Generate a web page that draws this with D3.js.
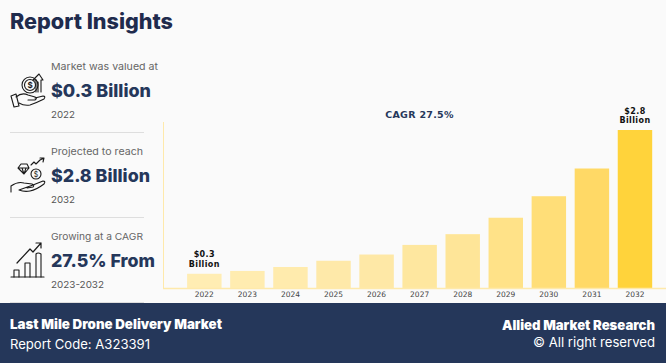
<!DOCTYPE html>
<html>
<head>
<meta charset="utf-8">
<script src="https://cdn.jsdelivr.net/npm/d3@7"></script>
<style>
html, body { margin: 0; padding: 0; background: #fafafa; }
svg { display: block; }
text { font-family: Inter, "Open Sans", sans-serif; }
.chart-text { font-family: "DejaVu Sans", sans-serif; }
.icon { fill: none; stroke: #1a1a1a; stroke-width: 1.1; stroke-linejoin: round; stroke-linecap: round; }
</style>
</head>
<body>
<div class="chart-container"></div>
<script>
const years = ['2022', '2023', '2024', '2025', '2026', '2027', '2028', '2029', '2030', '2031', '2032']
const marketValues = [0.26, 0.31, 0.38, 0.49, 0.60, 0.77, 0.96, 1.25, 1.63, 2.12, 2.8]
const valueLabels = { '2022': ['$0.3', 'Billion'], '2032': ['$2.8', 'Billion'] }
const cagrLabel = 'CAGR 27.5%'

const insightLabels = ['Market was valued at', 'Projected to reach', 'Growing at a CAGR']
const insightValues = ['$0.3 Billion', '$2.8 Billion', '27.5% From']
const insightYears = ['2022', '2032', '2023-2032']

const width = 666, height = 363
const navy = '#25375a', axisColor = '#fee9ab'

const svg = d3.select('.chart-container').append('svg')
    .attr('width', width)
    .attr('height', height)

svg.append('rect').attr('width', width).attr('height', height).attr('fill', '#fafafa')

// squeeze a text to the width it has in the reference, the Poppins of the original is not installed
const fit = (sel, w) => sel.attr('textLength', w).attr('lengthAdjust', 'spacingAndGlyphs')

fit(svg.append('text')
    .attr('x', 10).attr('y', 29)
    .attr('font-size', 21).attr('font-weight', 800).attr('fill', '#1f2b4d')
    .text('Report Insights'), 163)

// left column
const rowTops = [0, 85, 170]
const labelW = [107, 92, 92], valueW = [100, 99, 104], yearW = [24, 24, 53]
const rows = svg.selectAll('.insight')
    .data(insightLabels)
    .enter()
    .append('g')
    .classed('insight', true)
    .attr('transform', (d, i) => `translate(0,${rowTops[i]})`)

rows.append('text')
    .attr('x', 51).attr('y', 70)
    .attr('font-size', 9.5).attr('fill', '#666')
    .text(d => d)
    .each(function(d, i) { fit(d3.select(this), labelW[i]) })

rows.append('text')
    .attr('x', 51).attr('y', 97)
    .attr('font-size', 18).attr('font-weight', 800).attr('fill', navy)
    .text((d, i) => insightValues[i])
    .each(function(d, i) { fit(d3.select(this), valueW[i]) })

rows.append('text')
    .attr('x', 51).attr('y', 118)
    .attr('font-size', 9.5).attr('fill', '#555')
    .text((d, i) => insightYears[i])
    .each(function(d, i) { fit(d3.select(this), yearW[i]) })

svg.selectAll('.sep')
    .data([132, 217, 302])
    .enter()
    .append('line')
    .classed('sep', true)
    .attr('x1', 10).attr('x2', 144)
    .attr('y1', d => d + 0.5).attr('y2', d => d + 0.5)
    .attr('stroke', '#dedede')

// icons
const icon1 = svg.append('g').attr('class', 'icon')
icon1.append('path').attr('d', 'M11 96 L16 94 L19 106 L14 107 Z')
icon1.append('path').attr('d', 'M16 97 Q22 92 28 95 L35 97 Q38 98 35 100 L28 100 M35 98 L43 96 Q46 96 44 99 Q36 103 30 105 Q24 106 19 103')
icon1.append('circle').attr('cx', 30).attr('cy', 85).attr('r', 8)
icon1.append('circle').attr('cx', 30).attr('cy', 85).attr('r', 5.5)
icon1.append('path').attr('d', 'M36 92 L36 80 L33 80 L39 74 L43 80 L41 80 L41 92 M38 82 L38 92')
icon1.append('text').attr('x', 30).attr('y', 88).attr('text-anchor', 'middle')
    .attr('font-size', 8).attr('font-weight', 700).attr('fill', '#1a1a1a').attr('stroke', 'none').text('$')

const icon2 = svg.append('g').attr('class', 'icon')
icon2.append('path').attr('d', 'M11 192 L11 186 Q18 181 24 183 L32 184 Q35 185 33 187 L27 188 M33 185 L43 181 Q46 181 44 184 Q36 190 30 191 Q24 192 19 190 Z')
icon2.append('path').attr('d', 'M18 168 L21 164 L27 164 L29 168 L24 174 Z M18 168 L29 168 M22 168 L24 174 L26 168')
icon2.append('circle').attr('cx', 36).attr('cy', 174).attr('r', 5)
icon2.append('path').attr('d', 'M31 165 L34 162 L36 164 L40 160 L44 158 M40 158 L44 158 L43 162')
icon2.append('text').attr('x', 36).attr('y', 177).attr('text-anchor', 'middle')
    .attr('font-size', 7).attr('fill', '#1a1a1a').attr('stroke', 'none').text('$')

const icon3 = svg.append('g').attr('class', 'icon')
icon3.append('path').attr('d', 'M11 277 L44 277')
icon3.append('path').attr('d', 'M14 277 L14 270 L19 270 L19 277 M25 277 L25 263 L30 263 L30 277 M36 277 L36 254 Q38 252 41 254 L41 277')
icon3.append('path').attr('d', 'M17 263 L30 249 L33 252 L41 243 M36 243 L41 243 L41 248').attr('stroke-width', 1.2)

// chart
const xScale = d3.scaleBand()
    .domain(years)
    .range([182.8, 656.5])
    .paddingInner(0.2)
    .paddingOuter(0.1)

const yScale = d3.scaleLinear()
    .domain([0, 2.8])
    .range([288.5, 130])

const color = d3.scaleLinear()
    .domain([0, 4, 6, 8, 9, 10])
    .range(['#ffedb3', '#fee8a6', '#fee598', '#ffde78', '#ffd966', '#ffd33b'])

const bars = years.map((y, i) => ({ year: y, value: marketValues[i], index: i }))

svg.selectAll('.bar')
    .data(bars)
    .enter()
    .append('rect')
    .classed('bar', true)
    .attr('x', d => xScale(d.year))
    .attr('y', d => yScale(d.value))
    .attr('width', xScale.bandwidth())
    .attr('height', d => yScale(0) - yScale(d.value))
    .attr('fill', d => color(d.index))

const xAxis = d3.axisBottom(xScale).tickSize(0).tickPadding(3)
const axisG = svg.append('g')
    .attr('transform', `translate(0,${yScale(0)})`)
    .call(xAxis)
axisG.select('.domain').remove()
axisG.selectAll('text')
    .attr('class', 'chart-text')
    .attr('font-size', 7.5)
    .attr('fill', '#444')

svg.append('line')
    .attr('x1', 163).attr('x2', width)
    .attr('y1', yScale(0)).attr('y2', yScale(0))
    .attr('stroke', axisColor).attr('stroke-width', 1.5)
svg.append('line')
    .attr('x1', 163.5).attr('x2', 163.5)
    .attr('y1', 122).attr('y2', yScale(0))
    .attr('stroke', axisColor).attr('stroke-width', 1)

bars.filter(d => valueLabels[d.year]).forEach(d => {
    valueLabels[d.year].forEach((line, j) => {
        svg.append('text')
            .attr('class', 'chart-text')
            .attr('x', xScale(d.year) + xScale.bandwidth() / 2)
            .attr('y', yScale(d.value) - 7 - (1 - j) * 9.5)
            .attr('text-anchor', 'middle')
            .attr('font-size', 8)
            .attr('font-weight', 700)
            .attr('letter-spacing', 0.4)
            .attr('fill', '#111')
            .text(line)
    })
})

svg.append('text')
    .attr('class', 'chart-text')
    .attr('x', 419.5).attr('y', 118)
    .attr('text-anchor', 'middle')
    .attr('font-size', 9.5).attr('font-weight', 700)
    .attr('letter-spacing', 0.3)
    .attr('fill', navy)
    .text(cagrLabel)

// footer
svg.append('rect').attr('x', 0).attr('y', 303).attr('width', width).attr('height', 60).attr('fill', navy)

fit(svg.append('text')
    .attr('x', 10).attr('y', 329)
    .attr('font-size', 13).attr('font-weight', 900).attr('fill', '#fff')
    .text('Last Mile Drone Delivery Market'), 212)
fit(svg.append('text')
    .attr('x', 10).attr('y', 349)
    .attr('font-size', 13).attr('fill', '#fff')
    .text('Report Code: A323391'), 140)
fit(svg.append('text')
    .attr('x', 502).attr('y', 330)
    .attr('font-size', 13).attr('font-weight', 900).attr('fill', '#fff')
    .text('Allied Market Research'), 153)
fit(svg.append('text')
    .attr('x', 533).attr('y', 347)
    .attr('font-size', 13).attr('fill', '#fff')
    .text('© All right reserved'), 122)
</script>
</body>
</html>
